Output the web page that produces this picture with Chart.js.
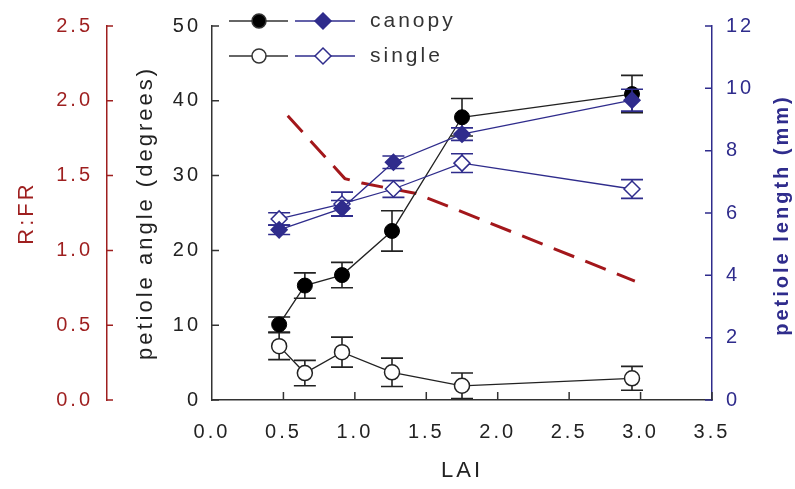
<!DOCTYPE html>
<html lang="en">
<head>
  <meta charset="UTF-8">
  <title>Petiole angle, petiole length and R:FR vs LAI</title>
  <script src="https://cdn.jsdelivr.net/npm/chart.js"></script>
  <style>
    html, body { margin: 0; padding: 0; background: #fff; }
    canvas { display: block; }
  </style>
</head>
<body>
  <canvas id="chart" width="795" height="489"></canvas>
  <script>
    // petiole angle (degrees), left inner axis
    const laiAngle = [0.47, 0.65, 0.91, 1.26, 1.75, 2.94];
    const angleCanopy = [10.1, 15.3, 16.7, 22.6, 37.8, 40.9];
    const angleCanopyErr = [1.0, 1.7, 1.7, 2.7, 2.5, 2.5];
    const angleSingle = [7.2, 3.6, 6.4, 3.7, 1.9, 2.9];
    const angleSingleErr = [1.8, 1.7, 2.0, 1.9, 1.7, 1.6];

    // petiole length (mm), right axis
    const laiLength = [0.47, 0.91, 1.27, 1.75, 2.94];
    const lengthCanopy = [5.46, 6.15, 7.63, 8.53, 9.62];
    const lengthCanopyErr = [0.15, 0.25, 0.2, 0.2, 0.35];
    const lengthSingle = [5.81, 6.29, 6.77, 7.6, 6.77];
    const lengthSingleErr = [0.2, 0.38, 0.27, 0.3, 0.3];

    // R:FR, left outer axis (dashed line)
    const laiRfr = [0.53, 0.93, 1.05, 1.43, 2.96];
    const rfr = [1.90, 1.48, 1.45, 1.38, 0.795];

    const FONT = "'Liberation Sans', Arial, sans-serif";
    const BLACK = '#222';
    const RED = '#9e1f1f';
    const NAVY = '#2f2c8c';

    function pts(xs, ys) {
      return xs.map((x, i) => ({ x: x, y: ys[i] }));
    }

    // wide letter spacing like the original figure
    const spacing = {
      id: 'spacing',
      beforeLayout(chart) { chart.ctx.letterSpacing = '3px'; },
      beforeDraw(chart) { chart.ctx.letterSpacing = '3px'; }
    };

    // error bars, drawn right before each dataset
    const errorBars = {
      id: 'errorBars',
      beforeDatasetDraw(chart, args) {
        const ds = chart.data.datasets[args.index];
        if (!ds.errors) return;
        const meta = args.meta;
        const yScale = chart.scales[meta.yAxisID];
        const ctx = chart.ctx;
        ctx.save();
        ctx.strokeStyle = ds.borderColor;
        ctx.lineWidth = 1.6;
        meta.data.forEach((p, i) => {
          const v = ds.data[i].y, e = ds.errors[i];
          const top = yScale.getPixelForValue(v + e);
          const bot = yScale.getPixelForValue(v - e);
          ctx.beginPath();
          ctx.moveTo(p.x, top); ctx.lineTo(p.x, bot);
          ctx.moveTo(p.x - 11, top); ctx.lineTo(p.x + 11, top);
          ctx.moveTo(p.x - 11, bot); ctx.lineTo(p.x + 11, bot);
          ctx.stroke();
        });
        ctx.restore();
      }
    };

    // inward tick marks, custom legend and right axis title
    const extras = {
      id: 'extras',
      afterDraw(chart) {
        const ctx = chart.ctx;
        const s = chart.scales;
        ctx.save();
        ctx.lineWidth = 1.5;

        function vTicks(scale, x, len, color) {
          ctx.strokeStyle = color;
          ctx.beginPath();
          scale.ticks.forEach(t => {
            const y = scale.getPixelForValue(t.value);
            ctx.moveTo(x, y); ctx.lineTo(x + len, y);
          });
          ctx.stroke();
        }
        vTicks(s.yR, s.yR.right, 6, RED);
        vTicks(s.y, s.y.right, 7, '#333');
        vTicks(s.yL, s.yL.left, -7, NAVY);

        ctx.strokeStyle = '#333';
        ctx.beginPath();
        s.x.ticks.forEach(t => {
          if (t.value === 0) return;
          const x = s.x.getPixelForValue(t.value);
          ctx.moveTo(x, s.x.top); ctx.lineTo(x, s.x.top - 8);
        });
        ctx.stroke();

        // right axis title reads bottom to top
        ctx.fillStyle = NAVY;
        ctx.font = 'bold 20px ' + FONT;
        ctx.textAlign = 'center';
        ctx.textBaseline = 'middle';
        ctx.translate(782, 215);
        ctx.rotate(-Math.PI / 2);
        ctx.fillText('petiole length (mm)', 0, 0);
        ctx.setTransform(1, 0, 0, 1, 0, 0);

        // legend
        const rows = [{ y: 21, text: 'canopy', fill: true }, { y: 56, text: 'single', fill: false }];
        rows.forEach(r => {
          ctx.lineWidth = 1.4;
          ctx.strokeStyle = '#333';
          ctx.beginPath(); ctx.moveTo(229, r.y); ctx.lineTo(288, r.y); ctx.stroke();
          ctx.beginPath(); ctx.arc(259, r.y, 7, 0, Math.PI * 2);
          ctx.fillStyle = r.fill ? '#000' : '#fff';
          ctx.fill(); ctx.lineWidth = 1.5; ctx.stroke();

          ctx.lineWidth = 1.4;
          ctx.strokeStyle = NAVY;
          ctx.beginPath(); ctx.moveTo(295, r.y); ctx.lineTo(355, r.y); ctx.stroke();
          ctx.beginPath();
          ctx.moveTo(323, r.y - 8); ctx.lineTo(331, r.y); ctx.lineTo(323, r.y + 8); ctx.lineTo(315, r.y);
          ctx.closePath();
          ctx.fillStyle = r.fill ? NAVY : '#fff';
          ctx.fill(); ctx.lineWidth = 1.5; ctx.stroke();

          ctx.fillStyle = '#333';
          ctx.font = '21px ' + FONT;
          ctx.textAlign = 'left';
          ctx.textBaseline = 'middle';
          ctx.fillText(r.text, 370, r.y);
        });
        ctx.restore();
      }
    };

    new Chart(document.getElementById('chart'), {
      type: 'line',
      data: {
        datasets: [
          {
            label: 'canopy length',
            data: pts(laiLength, lengthCanopy),
            errors: lengthCanopyErr,
            yAxisID: 'yL',
            borderColor: NAVY, backgroundColor: NAVY,
            borderWidth: 1.3,
            pointStyle: 'rectRot', pointRadius: 8,
            pointBackgroundColor: NAVY, pointBorderColor: NAVY, pointBorderWidth: 1.5
          },
          {
            label: 'single length',
            data: pts(laiLength, lengthSingle),
            errors: lengthSingleErr,
            yAxisID: 'yL',
            borderColor: NAVY, backgroundColor: '#fff',
            borderWidth: 1.3,
            pointStyle: 'rectRot', pointRadius: 8,
            pointBackgroundColor: '#fff', pointBorderColor: NAVY, pointBorderWidth: 1.5
          },
          {
            label: 'canopy angle',
            data: pts(laiAngle, angleCanopy),
            errors: angleCanopyErr,
            yAxisID: 'y',
            borderColor: '#222', backgroundColor: '#000',
            borderWidth: 1.3,
            pointStyle: 'circle', pointRadius: 7.5,
            pointBackgroundColor: '#000', pointBorderColor: '#000', pointBorderWidth: 1
          },
          {
            label: 'single angle',
            data: pts(laiAngle, angleSingle),
            errors: angleSingleErr,
            yAxisID: 'y',
            borderColor: '#222', backgroundColor: '#fff',
            borderWidth: 1.3,
            pointStyle: 'circle', pointRadius: 7.5,
            pointBackgroundColor: '#fff', pointBorderColor: '#222', pointBorderWidth: 1.5
          },
          {
            label: 'R:FR',
            data: pts(laiRfr, rfr),
            yAxisID: 'yR',
            borderColor: '#a3171b',
            borderWidth: 3,
            borderDash: [22, 12],
            pointRadius: 0
          }
        ]
      },
      options: {
        responsive: false,
        animation: false,
        devicePixelRatio: 1,
        layout: { padding: { top: 25, left: 0, right: 0, bottom: 0 } },
        plugins: { legend: { display: false }, tooltip: { enabled: false } },
        scales: {
          x: {
            type: 'linear', position: 'bottom', min: 0, max: 3.5,
            ticks: { stepSize: 0.5, autoSkip: false, maxRotation: 0, padding: 20,
                     color: BLACK, font: { family: FONT, size: 20 },
                     callback: v => v.toFixed(1) },
            grid: { display: false, drawTicks: false },
            border: { display: true, color: '#333', width: 1.5 },
            title: { display: true, text: 'LAI', color: BLACK,
                     font: { family: FONT, size: 22 }, padding: { top: 0, bottom: 5 } },
            afterFit(scale) { scale.height = 89; }
          },
          y: {
            type: 'linear', position: 'left', weight: 0, min: 0, max: 50,
            ticks: { stepSize: 10, padding: 11, color: BLACK, font: { family: FONT, size: 20 } },
            grid: { display: false, drawTicks: false },
            border: { display: true, color: '#333', width: 1.5 },
            title: { display: true, text: 'petiole angle (degrees)', color: BLACK,
                     font: { family: FONT, size: 22 }, padding: { top: 26, bottom: 0 } },
            afterFit(scale) { scale.width = 105; }
          },
          yR: {
            type: 'linear', position: 'left', weight: 1, min: 0, max: 2.5,
            ticks: { stepSize: 0.5, padding: 14, color: RED, font: { family: FONT, size: 20 },
                     callback: v => v.toFixed(1) },
            grid: { display: false, drawTicks: false },
            border: { display: true, color: RED, width: 1.5 },
            title: { display: true, text: 'R:FR', color: RED,
                     font: { family: FONT, size: 22 }, padding: { top: 14, bottom: 0 } },
            afterFit(scale) { scale.width = 107; }
          },
          yL: {
            type: 'linear', position: 'right', min: 0, max: 12,
            ticks: { stepSize: 2, padding: 14, color: NAVY, font: { family: FONT, size: 20 } },
            grid: { display: false, drawTicks: false },
            border: { display: true, color: NAVY, width: 1.5 },
            title: { display: false },
            afterFit(scale) { scale.width = 83; }
          }
        }
      },
      plugins: [spacing, errorBars, extras]
    });
  </script>
</body>
</html>
